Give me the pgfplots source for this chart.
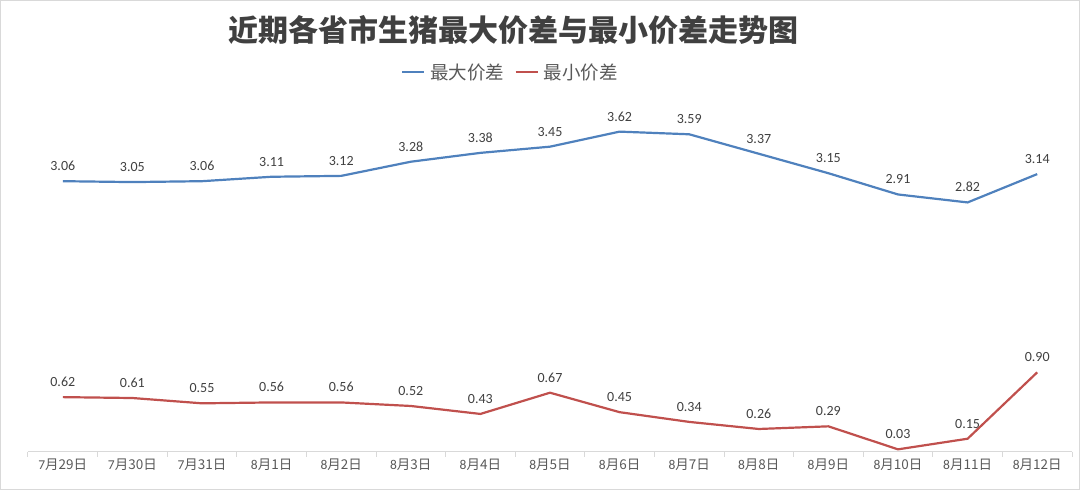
\documentclass[border=0pt]{standalone}
\usepackage{fontspec}
\setmainfont{Carlito}
\newfontfamily\cjk{Noto Sans CJK SC}
\usepackage{pgfplots}
\pgfplotsset{compat=1.18}
\definecolor{maxc}{HTML}{4F81BD}
\definecolor{minc}{HTML}{C0504D}
\definecolor{linec}{HTML}{D9D9D9}
\definecolor{txt}{HTML}{595959}
\definecolor{lbl}{HTML}{404040}

\begin{document}
\begin{tikzpicture}
  \begin{axis}[
      scale only axis,
      width=1044pt, height=354pt,
      xmin=-0.5, xmax=14.5,
      ymin=0, ymax=4,
      axis x line*=bottom,
      axis y line=none,
      axis line style={linec, line width=1pt},
      xtick={0,...,14},
      xticklabels={7\cjk{月}29\cjk{日},7\cjk{月}30\cjk{日},7\cjk{月}31\cjk{日},8\cjk{月}1\cjk{日},8\cjk{月}2\cjk{日},8\cjk{月}3\cjk{日},8\cjk{月}4\cjk{日},8\cjk{月}5\cjk{日},8\cjk{月}6\cjk{日},8\cjk{月}7\cjk{日},8\cjk{月}8\cjk{日},8\cjk{月}9\cjk{日},8\cjk{月}10\cjk{日},8\cjk{月}11\cjk{日},8\cjk{月}12\cjk{日}},
      major tick length=0pt,
      extra x ticks={-0.5,0.5,...,14.5},
      extra x tick labels={},
      extra x tick style={major tick length=5pt, tick align=outside, tick style={linec, line width=1pt}},
      xticklabel style={font=\fontsize{13.5}{15}\selectfont, text=txt, yshift=-3pt},
      nodes near coords,
      point meta=explicit,
      every node near coord/.append style={font=\fontsize{14}{16}\selectfont, text=lbl, yshift=6pt,
        /pgf/number format/.cd, fixed, fixed zerofill, precision=2, assume math mode=true},
      legend columns=2,
      legend style={draw=none, fill=none, at={([yshift=26pt]axis description cs:0.462,1)}, anchor=center,
        font=\cjk\fontsize{18.5}{20}\selectfont, text=txt,
        /tikz/every odd column/.append style={column sep=3pt},
        /tikz/every even column/.append style={column sep=8pt}},
      legend image code/.code={\draw[#1, line width=2.5pt] (0pt,0pt) -- (22pt,0pt);},
      clip=false,
    ]
    \addplot[maxc, line width=2.2pt] coordinates {
      (0,3.06) [3.06] (1,3.05) [3.05] (2,3.06) [3.06] (3,3.11) [3.11] (4,3.12) [3.12]
      (5,3.28) [3.28] (6,3.38) [3.38] (7,3.45) [3.45] (8,3.62) [3.62] (9,3.59) [3.59]
      (10,3.37) [3.37] (11,3.15) [3.15] (12,2.91) [2.91] (13,2.82) [2.82] (14,3.14) [3.14]
    };
    \addlegendentry{最大价差}
    \addplot[minc, line width=2.2pt] coordinates {
      (0,0.62) [0.62] (1,0.61) [0.61] (2,0.55) [0.55] (3,0.56) [0.56] (4,0.56) [0.56]
      (5,0.52) [0.52] (6,0.43) [0.43] (7,0.67) [0.67] (8,0.45) [0.45] (9,0.34) [0.34]
      (10,0.26) [0.26] (11,0.29) [0.29] (12,0.03) [0.03] (13,0.15) [0.15] (14,0.90) [0.90]
    };
    \addlegendentry{最小价差}
    \node[font=\cjk\bfseries\fontsize{30}{34}\selectfont, text=lbl] at ([yshift=68pt]axis description cs:0.465,1) {近期各省市生猪最大价差与最小价差走势图};
  \end{axis}
  \draw[linec, line width=1pt] (-27.5pt,-37.5pt) rectangle (1051.5pt,451.5pt);
\end{tikzpicture}
\end{document}
